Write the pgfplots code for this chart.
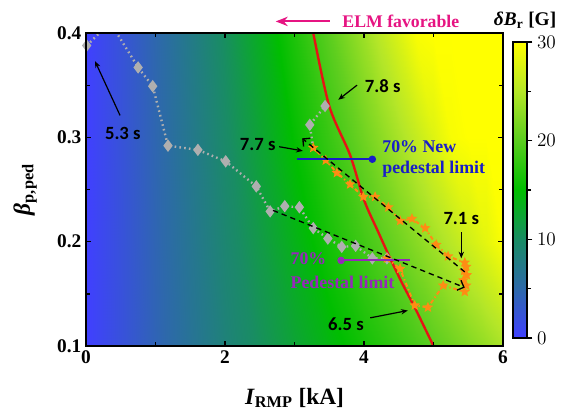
\documentclass[border=0pt]{standalone}
\usepackage{fontspec}
\setmainfont{Liberation Serif}
\newfontfamily\carlito{Carlito}
\usepackage{pgfplots}
\pgfplotsset{compat=1.18}
\usetikzlibrary{arrows.meta}

\definecolor{elm}{RGB}{230,20,130}
\definecolor{newblue}{RGB}{25,30,200}
\definecolor{pedpurple}{RGB}{150,40,185}
\definecolor{starorange}{RGB}{255,140,20}
\definecolor{greydia}{RGB}{175,175,175}
\definecolor{rmpred}{RGB}{230,20,20}

\pgfplotsset{
  colormap={dbr}{rgb255(0cm)=(64,64,255) rgb255(5cm)=(45,105,170)
    rgb255(10cm)=(25,140,100) rgb255(15cm)=(0,190,0) rgb255(20cm)=(90,205,30)
    rgb255(25cm)=(180,230,40) rgb255(30cm)=(255,255,0)},
  tlfont/.style={font=\fontsize{14.5}{15}\selectfont\bfseries},
}

% filled five-point star
\pgfdeclareplotmark{fstar}{%
  \pgfpathmoveto{\pgfpointpolar{90}{\pgfplotmarksize}}%
  \pgfpathlineto{\pgfpointpolar{126}{0.45\pgfplotmarksize}}%
  \pgfpathlineto{\pgfpointpolar{162}{\pgfplotmarksize}}%
  \pgfpathlineto{\pgfpointpolar{198}{0.45\pgfplotmarksize}}%
  \pgfpathlineto{\pgfpointpolar{234}{\pgfplotmarksize}}%
  \pgfpathlineto{\pgfpointpolar{270}{0.45\pgfplotmarksize}}%
  \pgfpathlineto{\pgfpointpolar{306}{\pgfplotmarksize}}%
  \pgfpathlineto{\pgfpointpolar{342}{0.45\pgfplotmarksize}}%
  \pgfpathlineto{\pgfpointpolar{18}{\pgfplotmarksize}}%
  \pgfpathlineto{\pgfpointpolar{54}{0.45\pgfplotmarksize}}%
  \pgfpathclose\pgfusepathqfill}

\begin{document}
\begin{tikzpicture}
\useasboundingbox (-64.5pt,-49.5pt) rectangle (356.25pt,259.5pt);
\begin{axis}[
  at={(0,0)}, anchor=south west,
  scale only axis, width=312.75pt, height=234.75pt,
  xmin=0, xmax=6, ymin=0.1, ymax=0.4,
  xtick={0,2,4,6}, minor xtick={1,3,5},
  ytick={0.1,0.2,0.3,0.4}, minor ytick={0.15,0.25,0.35},
  yticklabel style={/pgf/number format/fixed, /pgf/number format/precision=1,
    /pgf/number format/fixed zerofill},
  /pgf/number format/assume math mode=true,
  tick label style={tlfont},
  tick align=inside, major tick length=4pt, minor tick length=3pt,
  every tick/.style={black, line width=1pt},
  axis line style={line width=1.1pt},
  axis on top, clip mode=individual,
  xlabel={\textbf{\textit{I}\textsubscript{RMP} [kA]}},
  ylabel={\textbf{\textit{β}\textsubscript{p,ped}}},
  label style={font=\fontsize{17.5}{18}\selectfont},
  xlabel style={at={(axis description cs:0.5,-0.166)}, anchor=center},
  ylabel style={at={(axis description cs:-0.146,0.50)}, anchor=center},
  colormap name=dbr, point meta min=0, point meta max=30,
]
% dB_r field
\addplot[surf, shader=interp, mesh/cols=17, point meta=explicit]
  table[x=x, y=y, meta=c] {
x y c
0 0.1 0
0.5 0.1 2.10
1 0.1 4.30
1.5 0.1 6.40
2 0.1 8.50
2.5 0.1 10.40
3 0.1 12.30
3.5 0.1 14.20
4 0.1 16.10
4.25 0.1 17.00
4.5 0.1 18.00
4.75 0.1 19.00
5 0.1 20.00
5.25 0.1 21.10
5.5 0.1 22.20
5.75 0.1 23.30
6 0.1 24.50
0 0.2 0
0.5 0.2 2.16
1 0.2 4.46
1.5 0.2 6.75
2 0.2 9.11
2.5 0.2 11.40
3 0.2 13.75
3.5 0.2 16.17
4 0.2 18.65
4.25 0.2 19.88
4.5 0.2 21.20
4.75 0.2 22.53
5 0.2 23.88
5.25 0.2 25.31
5.5 0.2 26.76
5.75 0.2 28.22
6 0.2 29.76
0 0.3 0
0.5 0.3 2.23
1 0.3 4.62
1.5 0.3 7.10
2 0.3 9.72
2.5 0.3 12.39
3 0.3 15.20
3.5 0.3 18.14
4 0.3 21.21
4.25 0.3 22.77
4.5 0.3 24.40
4.75 0.3 26.06
5 0.3 27.76
5.25 0.3 29.51
5.5 0.3 30
5.75 0.3 30
6 0.3 30
0 0.4 0
0.5 0.4 2.29
1 0.4 4.78
1.5 0.4 7.45
2 0.4 10.33
2.5 0.4 13.39
3 0.4 16.65
3.5 0.4 20.11
4 0.4 23.76
4.25 0.4 25.65
4.5 0.4 27.60
4.75 0.4 29.59
5 0.4 30
5.25 0.4 30
5.5 0.4 30
5.75 0.4 30
6 0.4 30
};
% red limit curve
\addplot[rmpred, line width=1.8pt, smooth] coordinates {
  (3.27,0.40) (3.50,0.33) (3.80,0.283) (4.00,0.24) (4.20,0.21)
  (4.37,0.185) (4.55,0.16) (4.73,0.137) (5.00,0.10)};
% grey diamonds
\addplot[greydia, line width=1.8pt, dash pattern=on 1.2pt off 2.4pt,
  mark=diamond*, mark size=3.2pt, mark options={solid, fill=greydia}] coordinates {
  (0.01,0.388) (0.35,0.41) (0.75,0.367) (0.96,0.349) (1.18,0.292) (1.61,0.288)
  (2.01,0.277) (2.45,0.253) (2.65,0.229) (2.86,0.234) (3.07,0.233) (3.27,0.213)
  (3.48,0.203) (3.68,0.195) (3.88,0.196) (4.12,0.184) (4.33,0.184)};
\addplot[greydia, line width=1.8pt, dash pattern=on 1.2pt off 2.4pt,
  mark=diamond*, mark size=3.2pt, mark options={solid, fill=greydia}, mark indices={2,3}]
  coordinates {(3.27,0.290) (3.22,0.312) (3.44,0.330)};
% orange stars
\addplot[starorange, line width=1.5pt, dash pattern=on 3pt off 2pt on 1pt off 2pt,
  mark=fstar, mark size=4.2pt, mark options={solid}] coordinates {
  (4.33,0.184) (4.52,0.174) (4.73,0.139) (4.92,0.137) (5.14,0.158)
  (5.45,0.152) (5.47,0.158) (5.43,0.163) (5.48,0.168) (5.44,0.172) (5.47,0.176) (5.45,0.180)
  (5.21,0.186) (5.04,0.197) (4.88,0.213) (4.69,0.222) (4.52,0.220) (4.35,0.233)
  (4.16,0.243) (3.99,0.243) (3.80,0.255) (3.61,0.266) (3.45,0.278) (3.27,0.290)};
% pedestal limits
\addplot[newblue, line width=1.5pt, mark=*, mark size=2pt, mark indices={2}]
  coordinates {(3.04,0.279) (4.12,0.279)};
\addplot[pedpurple, line width=1.5pt, mark=*, mark size=2pt, mark indices={1}]
  coordinates {(3.67,0.182) (4.66,0.182)};
% trajectory arrows
\draw[black, line width=1pt, dash pattern=on 4pt off 3pt, -{Straight Barb[length=4pt]}]
  (axis cs:2.69,0.230) -- (axis cs:5.45,0.156);
\draw[black, line width=1pt, dash pattern=on 4pt off 3pt, -{Straight Barb[length=4pt]}]
  (axis cs:5.45,0.171) -- (axis cs:3.11,0.299);
% time labels
\tikzset{tl/.style={font=\carlito\bfseries\fontsize{14}{14}\selectfont},
         ta/.style={black, line width=0.9pt, -{Stealth[length=5pt,width=4pt]}}}
\node[tl] at (axis cs:0.53,0.304) {5.3 s};
\draw[ta] (axis cs:0.49,0.321) -- (axis cs:0.13,0.373);
\node[tl] at (axis cs:4.27,0.349) {7.8 s};
\draw[ta] (axis cs:3.90,0.350) -- (axis cs:3.63,0.336);
\node[tl] at (axis cs:2.47,0.293) {7.7 s};
\draw[ta] (axis cs:2.78,0.291) -- (axis cs:3.12,0.287);
\node[tl] at (axis cs:5.40,0.222) {7.1 s};
\draw[ta] (axis cs:5.40,0.209) -- (axis cs:5.40,0.184);
\node[tl] at (axis cs:3.74,0.121) {6.5 s};
\draw[ta] (axis cs:4.09,0.127) -- (axis cs:4.63,0.134);
% limit labels
\node[anchor=north west, align=left, text=newblue, inner sep=0pt,
  font=\bfseries\fontsize{13.4}{16}\selectfont] at (axis cs:4.26,0.297)
  {70\% New\\pedestal limit};
\node[anchor=north west, align=left, text=pedpurple, inner sep=0pt,
  font=\bfseries\fontsize{13.4}{18}\selectfont] at (axis cs:2.94,0.190)
  {70\%\\Pedestal limit};
% outside annotations
\node[text=elm, font=\bfseries\fontsize{13.3}{14}\selectfont]
  at (rel axis cs:0.755,1.038) {ELM favorable};
\draw[elm, line width=1.6pt, -{Stealth[length=9pt,width=7pt]}]
  (rel axis cs:0.585,1.037) -- (rel axis cs:0.455,1.037);
\node[font=\bfseries\fontsize{14.5}{15}\selectfont]
  at (rel axis cs:1.053,1.041) {\textit{δB}\textsubscript{r} [G]};
\end{axis}
% colour bar
\begin{axis}[
  at={(320.25pt,6pt)}, anchor=south west,
  scale only axis, width=10.5pt, height=222pt,
  xmin=0, xmax=1, ymin=0, ymax=30,
  xtick=\empty, ytick={0,10,20,30}, minor ytick={5,15,25},
  ytick pos=right, yticklabel pos=right,
  tick label style={tlfont},
  tick align=outside, major tick length=4pt, minor tick length=3pt,
  every tick/.style={black, line width=1pt},
  axis line style={line width=1.1pt}, axis on top,
  colormap name=dbr, point meta min=0, point meta max=30,
]
\addplot[surf, shader=interp, mesh/cols=2, point meta=explicit]
  table[x=x, y=y, meta=c] {
x y c
0 0 0
1 0 0
0 30 30
1 30 30
};
\end{axis}
\end{tikzpicture}
\end{document}
